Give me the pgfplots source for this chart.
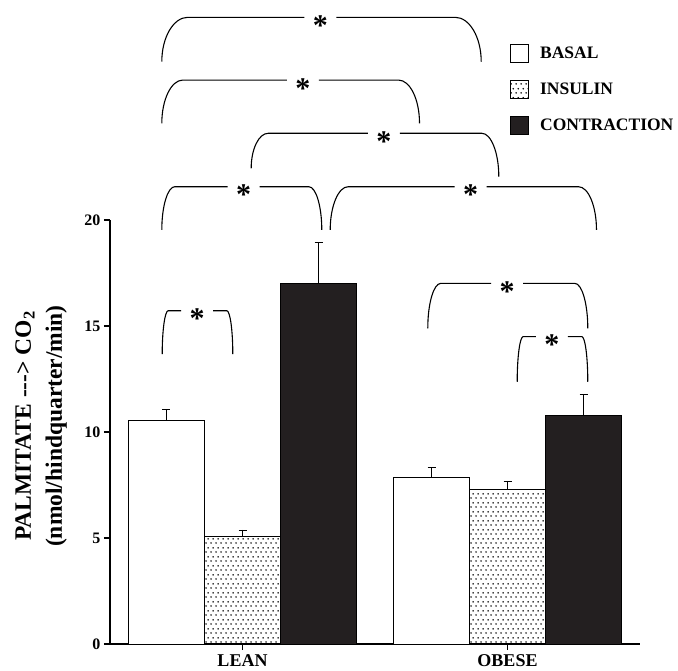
\documentclass[border=0pt]{standalone}
\usepackage{fontspec}
\setmainfont{Liberation Serif}
\usepackage{pgfplots}
\pgfplotsset{compat=1.18}
\usepackage{pgfplotstable}
\usetikzlibrary{patterns,calc}
\definecolor{barblack}{RGB}{35,31,32}

\pgfdeclarepatternformonly{bigdots}{\pgfqpoint{0pt}{0pt}}{\pgfqpoint{5pt}{9pt}}{\pgfqpoint{5pt}{9pt}}{%
  \pgfpathcircle{\pgfqpoint{1.25pt}{2.25pt}}{0.95pt}%
  \pgfpathcircle{\pgfqpoint{3.75pt}{6.75pt}}{0.95pt}%
  \pgfusepath{fill}}

\pgfplotstableread{
x y err
0.7132 10.57 0.50
1.7132 7.85 0.48
}\basal
\pgfplotstableread{
x y err
1 5.06 0.32
2 7.30 0.39
}\insulin
\pgfplotstableread{
x y err
1.2868 17.00 1.92
2.2868 10.80 0.95
}\contraction

% bracket: #1 xl, #2 xr, #3 ybotL, #4 ybotR, #5 ytop, #6 xstar, #7 corner width (pt)
\newcommand{\brk}[7]{%
  \draw[line width=1.1pt] (axis cs:#1,#3) .. controls ($(axis cs:#1,#3)!0.55!(axis cs:#1,#5)$) and ($(axis cs:#1,#5)+(0.45*#7pt,0pt)$) .. ($(axis cs:#1,#5)+(#7pt,0pt)$) -- ($(axis cs:#6,#5)+(-16pt,0pt)$);
  \draw[line width=1.1pt] ($(axis cs:#6,#5)+(16pt,0pt)$) -- ($(axis cs:#2,#5)+(-#7pt,0pt)$) .. controls ($(axis cs:#2,#5)+(-0.45*#7pt,0pt)$) and ($(axis cs:#2,#4)!0.55!(axis cs:#2,#5)$) .. (axis cs:#2,#4);
  \node[font=\bfseries\fontsize{30}{30}\selectfont, anchor=base, inner sep=0pt, yshift=-18pt] at (axis cs:#6,#5) {*};
}

\begin{document}
\begin{tikzpicture}
\begin{axis}[
  at={(110pt,27pt)}, anchor=south west,
  scale only axis, width=530pt, height=424pt,
  xmin=0.5, xmax=2.5, ymin=0, ymax=20,
  axis x line*=bottom, axis y line*=left,
  axis line style={line width=1.2pt, -},
  xtick={1,2}, xticklabels={LEAN,OBESE},
  ytick={0,5,10,15,20},
  tick align=outside, major tick length=6pt,
  tick style={line width=1.2pt, black},
  yticklabel style={font=\bfseries\fontsize{16}{18}\selectfont},
  xticklabel style={font=\bfseries\fontsize{18}{20}\selectfont, yshift=-1pt},
  /pgf/number format/assume math mode=true,
  clip=false,
  ylabel={PALMITATE {-}{-}{-}> CO\textsubscript{2}\\(nmol/hindquarter/min)},
  ylabel style={at={(axis description cs:-0.13,0.514)}, anchor=center, align=center, font=\bfseries\fontsize{23.5}{31}\selectfont},
  legend style={at={(axis description cs:0.755,1.416)}, anchor=north west, draw=none, fill=none,
    font=\bfseries\fontsize{17.5}{20}\selectfont, row sep=17.5pt, inner sep=0pt, column sep=9pt},
  legend cell align=left,
]
\addplot[forget plot, ybar, bar width=76pt, bar shift=0pt, fill=white, draw=black, line width=0.8pt,
  error bars/.cd, y dir=plus, y explicit, error mark=-, error mark options={rotate=90, mark size=4pt, line width=0.8pt, black}, error bar style={line width=0.8pt, black}]
  table[x=x, y=y, y error=err] {\basal};
\addplot[forget plot, ybar, bar width=76pt, bar shift=0pt, fill=white, pattern=bigdots, pattern color=black, draw=black, line width=0.8pt,
  error bars/.cd, y dir=plus, y explicit, error mark=-, error mark options={rotate=90, mark size=4pt, line width=0.8pt, black}, error bar style={line width=0.8pt, black}]
  table[x=x, y=y, y error=err] {\insulin};
\addplot[forget plot, ybar, bar width=76pt, bar shift=0pt, fill=barblack, draw=black, line width=0.8pt,
  error bars/.cd, y dir=plus, y explicit, error mark=-, error mark options={rotate=90, mark size=4pt, line width=0.8pt, black}, error bar style={line width=0.8pt, black}]
  table[x=x, y=y, y error=err] {\contraction};

\addlegendimage{legend image code/.code={\draw[fill=white, draw=black, line width=0.8pt] (0pt,-9pt) rectangle (18pt,9pt);}}
\addlegendentry{BASAL}
\addlegendimage{legend image code/.code={\draw[pattern=bigdots, pattern color=black, draw=black, line width=0.8pt] (0pt,-9pt) rectangle (18pt,9pt);}}
\addlegendentry{INSULIN}
\addlegendimage{legend image code/.code={\draw[fill=barblack, draw=black, line width=0.8pt] (0pt,-9pt) rectangle (18pt,9pt);}}
\addlegendentry{CONTRACTION}

\brk{0.6955}{1.9008}{27.47}{27.47}{29.56}{1.2943}{26}
\brk{0.6955}{1.668}{24.56}{24.56}{26.60}{1.2275}{21}
\brk{1.0328}{1.9672}{22.44}{22.04}{24.09}{1.5332}{17}
\brk{0.6955}{1.2992}{19.53}{19.53}{21.57}{1.0038}{13}
\brk{1.331}{2.3358}{19.53}{19.53}{21.57}{1.8604}{18}
\brk{0.697}{0.9634}{13.67}{13.67}{15.72}{0.829}{6}
\brk{1.6992}{2.303}{14.89}{14.89}{17.01}{1.9989}{13}
\brk{2.0366}{2.303}{12.37}{12.37}{14.50}{2.1672}{6}
\end{axis}
\pgfresetboundingbox
\useasboundingbox (0pt,0pt) rectangle (678pt,671pt);
\end{tikzpicture}
\end{document}
